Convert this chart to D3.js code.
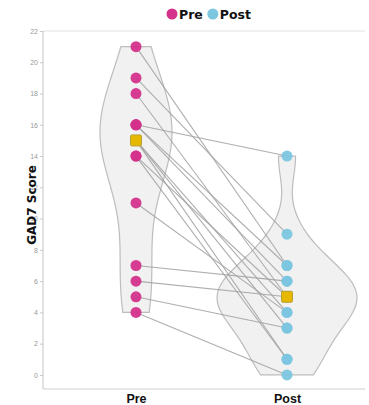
<!DOCTYPE html>
<html>
<head>
<meta charset="utf-8">
<script src="https://cdn.jsdelivr.net/npm/d3@7"></script>
<style>
  html, body { margin: 0; padding: 0; background: #fff; }
  svg { display: block; font-family: "DejaVu Sans", Verdana, sans-serif; }
</style>
</head>
<body>
<svg id="chart" width="369" height="405"></svg>
<script>
// GAD7 scores per participant, before and after
const groups = ["Pre", "Post"];
const preScores  = [21, 19, 18, 16, 16, 16, 15, 15, 15, 14, 14, 11, 7, 6, 5, 4];
const postScores = [7, 9, 5, 14, 7, 6, 1, 3, 4, 1, 5, 4, 6, 5, 3, 0];
const yTicks = [0, 2, 4, 6, 8, 10, 12, 14, 16, 18, 20, 22];
const groupColors = ["#d4318b", "#7cc6e0"];
const medianColor = "#e6b800";

const svg = d3.select("#chart");
const margin = { left: 43, right: 365, top: 31, bottom: 389 };

const x = d3.scalePoint().domain(groups).range([136, 287]);
const y = d3.scaleLinear().domain([-0.9, 22]).range([margin.bottom, margin.top]);

// plot frame
svg.append("line").attr("x1", margin.left).attr("x2", margin.right)
  .attr("y1", margin.top).attr("y2", margin.top)
  .attr("stroke", "#e2e2e2").attr("stroke-width", 1);

// y axis
const yAxis = svg.append("g").attr("transform", `translate(${margin.left},0)`)
  .call(d3.axisLeft(y).tickValues(yTicks).tickSize(3).tickPadding(2));
yAxis.select(".domain").attr("stroke", "#cfcfcf").attr("stroke-width", 1.2)
  .attr("d", `M0,${margin.top}V${margin.bottom}`);
yAxis.selectAll(".tick line").attr("stroke", "#c8c8c8");
yAxis.selectAll(".tick text").attr("fill", "#9a9a9a").attr("font-size", 7);

// x axis
const xAxis = svg.append("g").attr("transform", `translate(0,${margin.bottom})`)
  .call(d3.axisBottom(x).tickSize(0).tickPadding(5));
xAxis.select(".domain").attr("stroke", "#cfcfcf").attr("stroke-width", 1.2)
  .attr("d", `M${margin.left},0H${margin.right}`);
xAxis.selectAll(".tick text").attr("fill", "#111").attr("font-size", 12.5)
  .attr("font-weight", "bold");

// y label
svg.append("text")
  .attr("transform", `translate(36,${(margin.top + margin.bottom) / 2 - 5}) rotate(-90)`)
  .attr("text-anchor", "middle").attr("font-size", 12).attr("font-weight", "bold")
  .attr("fill", "#111").text("GAD7 Score");

// violins: gaussian kernel density, trimmed to the data range
function kde(values, bw) {
  const lo = d3.min(values), hi = d3.max(values);
  const pts = d3.range(lo, hi + 1e-9, (hi - lo) / 80);
  return pts.map(v => [v, d3.mean(values, s => Math.exp(-0.5 * ((v - s) / bw) ** 2) / (bw * Math.sqrt(2 * Math.PI)))]);
}
const violins = [
  { dens: kde(preScores, 3.2), half: 36 },
  { dens: kde(postScores, 1.6), half: 70 }
];

const area = d3.area().curve(d3.curveBasis);
violins.forEach((v, i) => {
  const cx = x(groups[i]);
  const w = d3.scaleLinear().domain([0, d3.max(v.dens, p => p[1])]).range([0, v.half]);
  area.y(p => y(p[0])).x0(p => cx - w(p[1])).x1(p => cx + w(p[1]));
  svg.append("path").datum(v.dens).attr("d", area)
    .attr("fill", "#efefef").attr("fill-opacity", 0.85)
    .attr("stroke", "#bdbdbd").attr("stroke-width", 1.2);
});

// paired lines
const pairs = preScores.map((p, i) => [p, postScores[i]]);
svg.append("g").selectAll("line").data(pairs).join("line")
  .attr("x1", x("Pre")).attr("y1", d => y(d[0]))
  .attr("x2", x("Post")).attr("y2", d => y(d[1]))
  .attr("stroke", "#a0a0a0").attr("stroke-width", 1.1).attr("stroke-opacity", 0.85);

// points
[preScores, postScores].forEach((vals, i) => {
  svg.append("g").selectAll("circle").data(vals).join("circle")
    .attr("cx", x(groups[i])).attr("cy", v => y(v)).attr("r", 5.5)
    .attr("fill", groupColors[i]).attr("fill-opacity", 0.95);
});

// medians
[preScores, postScores].forEach((vals, i) => {
  const m = d3.median(vals);
  svg.append("rect")
    .attr("x", x(groups[i]) - 5.5).attr("y", y(m) - 5.5)
    .attr("width", 11).attr("height", 11).attr("rx", 1.5)
    .attr("fill", medianColor).attr("stroke", "#b8a030").attr("stroke-width", 1);
});

// legend
const legend = svg.append("g").attr("transform", "translate(172,14)");
let lx = 0;
groups.forEach((g, i) => {
  legend.append("circle").attr("cx", lx).attr("cy", 0).attr("r", 5.5).attr("fill", groupColors[i]);
  const t = legend.append("text").attr("x", lx + 7).attr("y", 4.5)
    .attr("font-size", 12.5).attr("font-weight", "bold").attr("fill", "#111").text(g);
  lx += 7 + t.node().getComputedTextLength() + 10;
});
</script>
</body>
</html>
